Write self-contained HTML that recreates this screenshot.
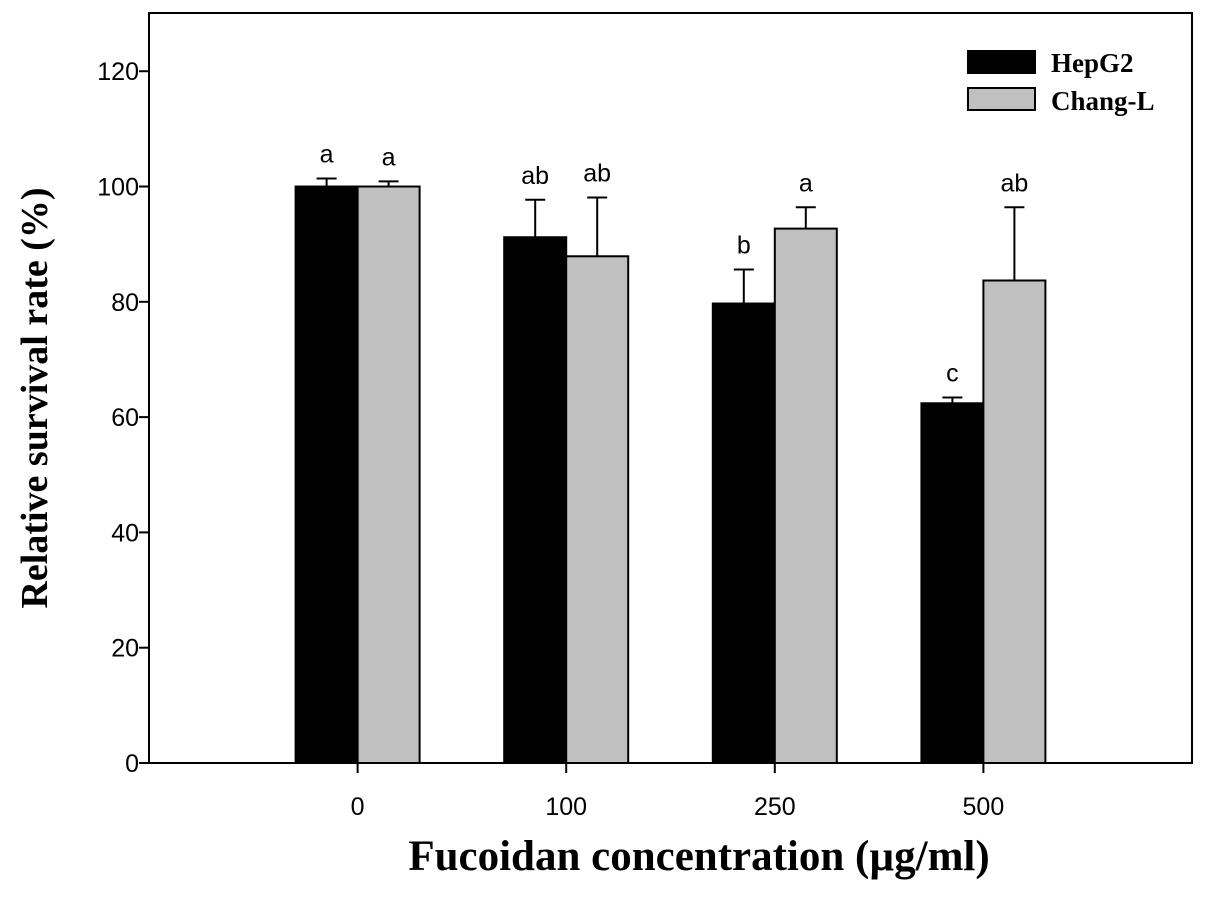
<!DOCTYPE html>
<html><head><meta charset="utf-8"><style>
body{margin:0;background:#fff}
svg text{font-family:"Liberation Sans",Arial,sans-serif}
</style></head><body>
<svg id="chart" width="1205" height="919" xmlns="http://www.w3.org/2000/svg">
<g id="plot"></g>
<text transform="translate(47,398) rotate(-90)" text-anchor="middle" style="font-family:'Liberation Serif',serif;font-weight:bold;font-size:38px">Relative survival rate (%)</text>
<text x="699" y="870" text-anchor="middle" style="font-family:'Liberation Serif',serif;font-weight:bold;font-size:43px">Fucoidan concentration  (µg/ml)</text>
<g>
<rect x="968" y="51" width="67" height="22" fill="#000" stroke="#000" stroke-width="2"/>
<text x="1051" y="72" style="font-family:'Liberation Serif',serif;font-weight:bold;font-size:27px">HepG2</text>
<rect x="968" y="88" width="67" height="22" fill="#c0c0c0" stroke="#000" stroke-width="2"/>
<text x="1051" y="110" style="font-family:'Liberation Serif',serif;font-weight:bold;font-size:27px">Chang-L</text>
</g>
</svg>
<script>
const categories=["0","100","250","500"];
const hepg2=[100,91.2,79.7,62.4];
const hepg2Err=[1.4,6.5,5.9,1.0];
const hepg2Sig=["a","ab","b","c"];
const changL=[100,87.9,92.7,83.7];
const changLErr=[0.9,10.2,3.7,12.7];
const changLSig=["a","ab","a","ab"];
const yTicks=[0,20,40,60,80,100,120];

const NS="http://www.w3.org/2000/svg";
const L=149,R=1192,T=13,B=763,yMax=130.1;
const y=v=>B-v/yMax*(B-T);
const slot=(R-L)/(categories.length+1);
const xc=i=>L+slot*(i+1);
const bw=62;
const g=document.getElementById('plot');
function mk(tag,attrs){const e=document.createElementNS(NS,tag);for(const k in attrs)e.setAttribute(k,attrs[k]);g.appendChild(e);return e;}

const frame=mk('rect',{x:L,y:T,width:R-L,height:B-T,fill:'none',stroke:'#000','stroke-width':2});



yTicks.forEach(v=>{
  const t=mk('line',{x1:L-10,x2:L,y1:y(v),y2:y(v),stroke:'#000','stroke-width':2});
  
  
  const l=mk('text',{x:L-10,y:y(v)+9,'text-anchor':'end','font-size':25});
  l.textContent=v;
  
  
});

function series(vals,errs,sigs,off,fill,name){
  vals.forEach((v,i)=>{
    const x0=off<0?xc(i)-bw:xc(i);
    const ex=x0+bw/2;
    const e=mk('line',{x1:ex,x2:ex,y1:y(v),y2:y(v+errs[i]),stroke:'#000','stroke-width':2});
    
    
    const c=mk('line',{x1:ex-10,x2:ex+10,y1:y(v+errs[i]),y2:y(v+errs[i]),stroke:'#000','stroke-width':2});
    
    
    const r=mk('rect',{x:x0,y:y(v),width:bw,height:B-y(v),fill:fill,stroke:'#000','stroke-width':2});
    
    
    const s=mk('text',{x:ex,y:y(v+errs[i])-16,'text-anchor':'middle','font-size':25});
    s.textContent=sigs[i];
    
    
  });
}
series(hepg2,hepg2Err,hepg2Sig,-1,'#000','hepg2');
series(changL,changLErr,changLSig,1,'#c0c0c0','chang-l');

categories.forEach((c,i)=>{
  const t=mk('line',{x1:xc(i),x2:xc(i),y1:B,y2:B+10,stroke:'#000','stroke-width':2});
  
  
  const l=mk('text',{x:xc(i),y:B+52,'text-anchor':'middle','font-size':25});
  l.textContent=c;
  
  
});
</script>
</body></html>
